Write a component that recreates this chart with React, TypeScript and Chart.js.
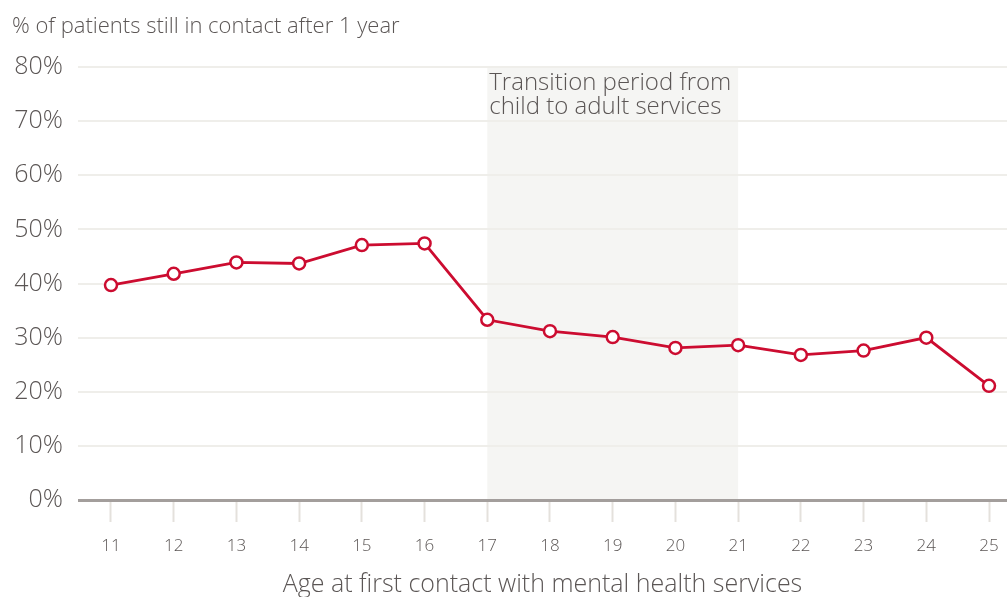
import React, { useEffect, useRef } from "react";
import { Chart, registerables } from "chart.js";

Chart.register(...registerables);

const ages = [11, 12, 13, 14, 15, 16, 17, 18, 19, 20, 21, 22, 23, 24, 25];
const stillInContact = [39.7, 41.8, 43.9, 43.7, 47.1, 47.4, 33.3, 31.2, 30.1, 28.1, 28.6, 26.8, 27.6, 30.0, 21.1];
const yTicks = [0, 10, 20, 30, 40, 50, 60, 70, 80];
const transitionStart = 17;
const transitionEnd = 21;
const titleText = "% of patients still in contact after 1 year";
const xTitleText = "Age at first contact with mental health services";
const annotationLines = ["Transition period from", "child to adult services"];

const FONT = "'Open Sans', 'Liberation Sans', Arial, sans-serif";
const TEXT = "#5b5655";
const RED = "#cc0c30";

const overlayPlugin = {
  id: "overlay",
  beforeDraw(chart: any) {
    const { ctx, scales } = chart;
    const x = scales.x;
    const y = scales.y;
    const l = x.getPixelForValue(transitionStart);
    const r = x.getPixelForValue(transitionEnd);
    ctx.save();
    ctx.fillStyle = "#f5f5f3";
    ctx.fillRect(l, y.getPixelForValue(80), r - l, y.getPixelForValue(0) - y.getPixelForValue(80));
    ctx.restore();
  },
  afterDraw(chart: any) {
    const { ctx, scales } = chart;
    const x = scales.x;
    const l = x.getPixelForValue(transitionStart);
    ctx.save();
    ctx.fillStyle = TEXT;
    ctx.textBaseline = "alphabetic";
    ctx.textAlign = "left";
    ctx.font = `300 22px ${FONT}`;
    ctx.fillText(titleText, 12, 33);
    ctx.font = `300 24px ${FONT}`;
    ctx.fillText(annotationLines[0], l + 2, 90);
    ctx.fillText(annotationLines[1], l + 2, 114);
    ctx.restore();
  },
};

export default function App() {
  const ref = useRef<HTMLCanvasElement>(null);
  useEffect(() => {
    const chart = new Chart(ref.current!, {
      type: "line",
      data: {
        datasets: [
          {
            data: ages.map((a, i) => ({ x: a, y: stillInContact[i] })),
            borderColor: RED,
            borderWidth: 2.8,
            pointRadius: 6,
            pointBorderWidth: 2.5,
            pointBackgroundColor: "#ffffff",
            pointBorderColor: RED,
            tension: 0,
            clip: false as any,
          },
        ],
      },
      options: {
        animation: false,
        responsive: false,
        maintainAspectRatio: false,
        layout: { autoPadding: false, padding: { top: 67, left: 0, right: 0, bottom: 0 } },
        plugins: { legend: { display: false }, tooltip: { enabled: false } },
        scales: {
          x: {
            type: "linear",
            min: 10.474,
            max: 25.287,
            afterBuildTicks: (s: any) => {
              s.ticks = ages.map((v) => ({ value: v }));
            },
            afterFit: (s: any) => {
              s.height = 97;
              s.paddingLeft = 0;
              s.paddingRight = 0;
            },
            border: { display: false },
            grid: {
              drawOnChartArea: false,
              drawTicks: true,
              tickLength: 22,
              tickColor: "#e4e1dc",
              tickWidth: 2,
            },
            ticks: {
              autoSkip: false,
              maxRotation: 0,
              padding: 14,
              color: TEXT,
              font: { family: FONT, size: 17, weight: 300 },
              callback: (v: any) => String(v),
            },
            title: {
              display: true,
              text: xTitleText,
              color: TEXT,
              font: { family: FONT, size: 25, weight: 300 },
              padding: { top: 0, bottom: -3 },
            },
          },
          y: {
            min: 0,
            max: 80,
            afterBuildTicks: (s: any) => {
              s.ticks = yTicks.map((v) => ({ value: v }));
            },
            afterFit: (s: any) => {
              s.width = 78;
            },
            border: { display: false },
            grid: {
              drawTicks: false,
              color: (c: any) => (c.tick && c.tick.value === 0 ? "#a39e9c" : "#efeeea"),
              lineWidth: (c: any) => (c.tick && c.tick.value === 0 ? 3 : 2),
            },
            ticks: {
              padding: 15,
              color: TEXT,
              font: { family: FONT, size: 25, weight: 300 },
              callback: (v: any) => `${v}%`,
            },
          },
        },
      },
      plugins: [overlayPlugin],
    });
    return () => chart.destroy();
  }, []);
  return (
    <div style={{ position: "fixed", left: 0, top: 0, width: 1007, height: 597, background: "#fff" }}>
      <canvas ref={ref} width={1007} height={597} style={{ width: 1007, height: 597, display: "block" }} />
    </div>
  );
}
